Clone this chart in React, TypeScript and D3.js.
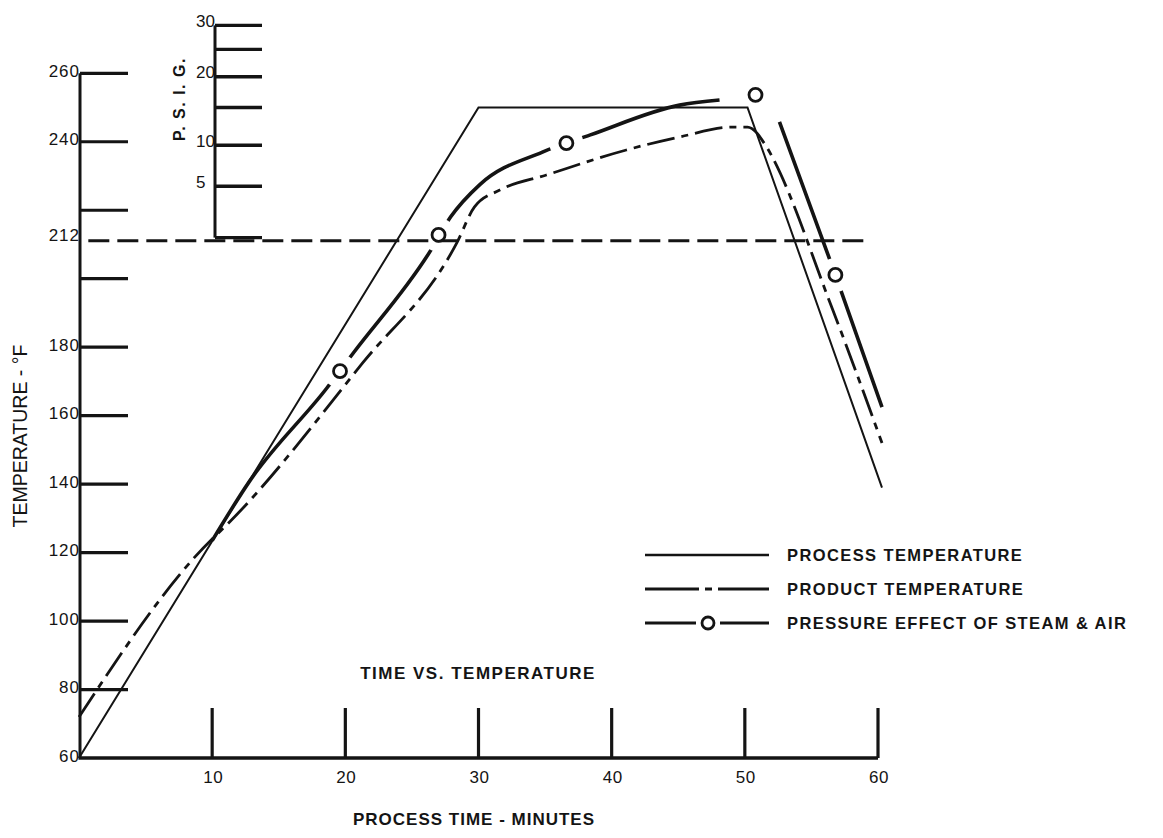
import React from 'react';
import * as d3 from 'd3';

// ---- data ----
const tempTicks = [60, 80, 100, 120, 140, 160, 180, 200, 220, 240, 260];
const tempTickLabels = ['60', '80', '100', '120', '140', '160', '180', '', '', '240', '260'];
const boilingTemp = 212;
const boilingLabel = '212';
const psigTicks = [0, 5, 10, 15, 20, 25, 30];
const psigSatTemps = [212, 227, 239, 250, 259, 267, 274];
const psigTickLabels = ['', '5', '10', '', '20', '', '30'];
const timeTicks = [10, 20, 30, 40, 50, 60];

const processTime = [0, 30, 50.2, 60.3];
const processTemp = [60, 250, 250, 139];

const productTime = [0, 10, 10.7, 21.3, 28.4, 29.7, 31.6, 35.1, 41.1, 45.1, 49.1, 50.2, 50.9, 51.4, 56.6, 60.3];
const productTemp = [72, 124, 126.6, 175.4, 210.7, 221, 225.9, 230.3, 237.6, 241.4, 244.3, 244.3, 242.6, 239.9, 190.9, 152];

// NaN marks the break in the hand-drawn pressure line at its peak
const pressureTime = [10, 12.8, 18.6, 20.6, 26.4, 27.9, 30.1, 34.8, 38.4, 45.1, 48.1, 50.8, 52.6, 56.8, 60.3];
const pressureTemp = [123.5, 140.8, 168, 178.3, 208.2, 218, 227.5, 237, 242, 250.7, 252.2, NaN, 245.8, 201.1, 162.5];

const markerTime = [19.6, 27, 36.6, 50.8, 56.8];
const markerTemp = [173, 212.8, 239.6, 253.7, 201.1];

const refLineSpan = [0.7, 59.3];

const legendLabels = ['PROCESS TEMPERATURE', 'PRODUCT TEMPERATURE', 'PRESSURE EFFECT OF STEAM & AIR'];

const W = 1163;
const H = 838;
const INK = '#141414';
const FONT = "'Liberation Sans', Arial, sans-serif";

export default function App() {
  const x = d3.scaleLinear().domain([0, 60]).range([79, 878]);
  const y = d3.scaleLinear().domain([60, 260]).range([758, 73.3]);

  const axisX = x(0) + 1;
  const psigX = 215;
  const tickLen = 48;

  const linear = d3.line<[number, number]>().x(d => x(d[0])).y(d => y(d[1]));
  const smooth = d3.line<[number, number]>()
    .defined(d => !Number.isNaN(d[1]))
    .x(d => x(d[0])).y(d => y(d[1])).curve(d3.curveMonotoneX);

  const processPts = processTime.map((t, i) => [t, processTemp[i]] as [number, number]);
  const productPts = productTime.map((t, i) => [t, productTemp[i]] as [number, number]);
  const pressurePts = pressureTime.map((t, i) => [t, pressureTemp[i]] as [number, number]);

  const legendX0 = 645;
  const legendX1 = 769;
  const legendY = [555, 589, 623];

  return (
    <svg width={W} height={H} style={{ position: 'absolute', left: 0, top: 0, background: '#fff' }}>
      <defs>
        <mask id="pmask" maskUnits="userSpaceOnUse" x={0} y={0} width={W} height={H}>
          <rect x={0} y={0} width={W} height={H} fill="#fff" />
          {markerTime.map((t, i) => (
            <circle key={i} cx={x(t)} cy={y(markerTemp[i])} r={17} fill="#000" />
          ))}
        </mask>
      </defs>
      <rect x={0} y={0} width={W} height={H} fill="#fff" />

      {/* left temperature axis */}
      <line x1={axisX} x2={axisX} y1={y(260)} y2={y(60)} stroke={INK} strokeWidth={3} />
      {tempTicks.map(t => (
        t === 60 ? null : (
          <line key={t} x1={axisX} x2={axisX + tickLen} y1={y(t)} y2={y(t)} stroke={INK} strokeWidth={3.2} />
        )
      ))}
      {tempTicks.map((t, i) => (
        tempTickLabels[i] ? (
          <text key={'l' + t} x={axisX} y={y(t) - 2} textAnchor="end" dominantBaseline="central"
            fontFamily={FONT} fontSize={17} fill={INK} letterSpacing={1}>{tempTickLabels[i]}</text>
        ) : null
      ))}
      <text x={axisX} y={y(boilingTemp) - 2} textAnchor="end" dominantBaseline="central"
        fontFamily={FONT} fontSize={17} fill={INK} letterSpacing={1}>{boilingLabel}</text>

      {/* temperature axis title */}
      <text transform={`translate(20,${436}) rotate(-90)`} textAnchor="middle" dominantBaseline="central"
        fontFamily={FONT} fontSize={19.5} fill={INK}>TEMPERATURE - °F</text>

      {/* bottom time axis */}
      <line x1={axisX - 1.5} x2={x(60)} y1={y(60)} y2={y(60)} stroke={INK} strokeWidth={3.5} />
      {timeTicks.map(t => (
        <line key={'t' + t} x1={x(t)} x2={x(t)} y1={y(60)} y2={y(60) - 50} stroke={INK} strokeWidth={3.2} />
      ))}
      {timeTicks.map(t => (
        <text key={'tl' + t} x={x(t) + 1} y={777} textAnchor="middle" dominantBaseline="central"
          fontFamily={FONT} fontSize={17} fill={INK} letterSpacing={0.5}>{t}</text>
      ))}
      <text x={478} y={673} textAnchor="middle" dominantBaseline="central" fontFamily={FONT}
        fontSize={17} fontWeight="bold" fill={INK} letterSpacing={1.5}>TIME VS. TEMPERATURE</text>
      <text x={474} y={819} textAnchor="middle" dominantBaseline="central" fontFamily={FONT}
        fontSize={17} fontWeight="bold" fill={INK} letterSpacing={1}>PROCESS TIME - MINUTES</text>

      {/* PSIG axis */}
      <line x1={psigX} x2={psigX} y1={y(psigSatTemps[psigSatTemps.length - 1])} y2={y(psigSatTemps[0])}
        stroke={INK} strokeWidth={3} />
      {psigTicks.map((p, i) => (
        <line key={'p' + p} x1={psigX} x2={psigX + 47} y1={y(psigSatTemps[i])} y2={y(psigSatTemps[i])}
          stroke={INK} strokeWidth={3.4} />
      ))}
      {psigTicks.map((p, i) => (
        psigTickLabels[i] ? (
          <text key={'pl' + p} x={196} y={y(psigSatTemps[i]) - 4} textAnchor="start" dominantBaseline="central"
            fontFamily={FONT} fontSize={17} fill={INK}>{psigTickLabels[i]}</text>
        ) : null
      ))}
      <text transform={`translate(179,${99}) rotate(-90)`} textAnchor="middle" dominantBaseline="central"
        fontFamily={FONT} fontSize={16} fontWeight="bold" fill={INK} letterSpacing={1.5}>P. S. I. G.</text>

      {/* 212 reference line */}
      <line x1={x(refLineSpan[0])} x2={x(refLineSpan[1])} y1={y(boilingTemp) + 3} y2={y(boilingTemp) + 3}
        stroke={INK} strokeWidth={3} strokeDasharray="21 8" />

      {/* curves */}
      <path d={linear(processPts) || ''} fill="none" stroke={INK} strokeWidth={2} strokeLinejoin="miter" />
      <path d={smooth(productPts) || ''} fill="none" stroke={INK} strokeWidth={2.8} strokeDasharray="28 7 7 7" />
      <path d={smooth(pressurePts) || ''} fill="none" stroke={INK} strokeWidth={3.6} mask="url(#pmask)" />
      {markerTime.map((t, i) => (
        <circle key={'m' + i} cx={x(t)} cy={y(markerTemp[i])} r={6.5} fill="#fff" stroke={INK} strokeWidth={2.8} />
      ))}

      {/* legend */}
      <line x1={legendX0} x2={legendX1} y1={legendY[0]} y2={legendY[0]} stroke={INK} strokeWidth={2.6} />
      <line x1={legendX0} x2={legendX1} y1={legendY[1]} y2={legendY[1]} stroke={INK} strokeWidth={2.8}
        strokeDasharray="54 6 7 6 60" />
      <line x1={legendX0} x2={legendX0 + 51} y1={legendY[2]} y2={legendY[2]} stroke={INK} strokeWidth={2.8} />
      <line x1={legendX0 + 75} x2={legendX1} y1={legendY[2]} y2={legendY[2]} stroke={INK} strokeWidth={2.8} />
      <circle cx={legendX0 + 63} cy={legendY[2]} r={6} fill="#fff" stroke={INK} strokeWidth={2.8} />
      {legendLabels.map((l, i) => (
        <text key={l} x={787} y={legendY[i]} dominantBaseline="central" fontFamily={FONT} fontSize={16.5}
          fontWeight="bold" fill={INK} letterSpacing={1.4}>{l}</text>
      ))}
    </svg>
  );
}
